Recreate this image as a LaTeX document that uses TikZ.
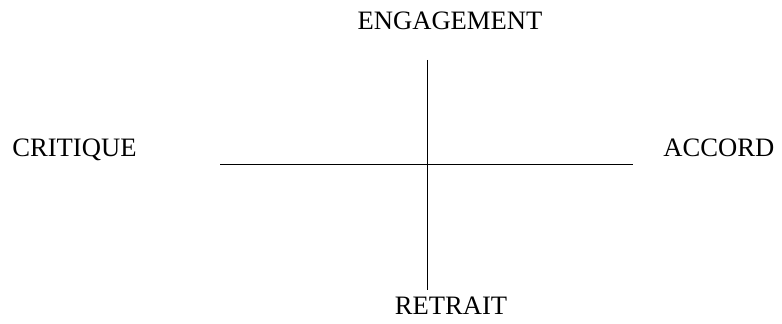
\documentclass[tikz,border=0pt]{standalone}
\usepackage{fontspec}
\setmainfont{Liberation Serif}
\tikzset{lbl/.style={inner sep=0pt, font=\fontsize{13.3}{16}\selectfont}}
\begin{document}
\begin{tikzpicture}[x=0.5pt,y=-0.5pt]
  \useasboundingbox (0,0) rectangle (782,324);

  \node[lbl, anchor=base] (ENG) at (450,30) {ENGAGEMENT};
  \node[lbl, anchor=base west] (CRI) at (12,157) {CRITIQUE};
  \node[lbl, anchor=base west] (ACC) at (663,157) {ACCORD};
  \node[lbl, anchor=base] (RET) at (451,315) {RETRAIT};

  \coordinate (top) at (427,60);
  \coordinate (bot) at (427,290);
  \coordinate (lft) at (220,165);
  \coordinate (rgt) at (633,165);

  \draw[line width=0.5pt] (top) -- (bot);
  \draw[line width=0.5pt] (lft) -- (rgt);

\end{tikzpicture}
\end{document}
